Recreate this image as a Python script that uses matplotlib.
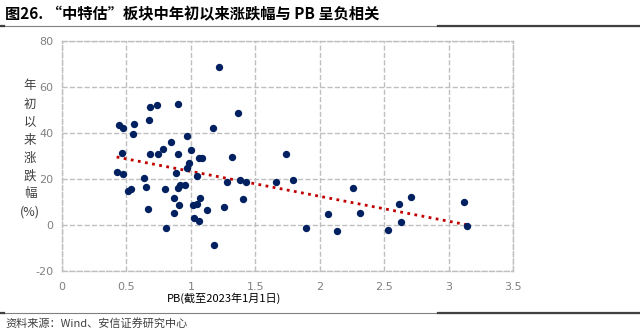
import numpy as np
import matplotlib
matplotlib.use('Agg')
import matplotlib.pyplot as plt
from matplotlib.lines import Line2D

plt.rcParams['font.family'] = ['Noto Sans CJK SC', 'DejaVu Sans']
plt.rcParams['axes.unicode_minus'] = False

# PB 与年初以来涨跌幅（%）
pb = [0.444, 0.475, 0.558, 0.548, 0.674, 0.680, 0.736, 0.902, 1.168, 1.215,
      0.465, 0.680, 0.747, 0.780, 0.845, 0.902, 0.969, 1.000, 0.984, 0.969,
      0.884, 1.065, 1.085, 1.044, 0.424, 0.470, 0.633, 1.364, 1.318, 1.739,
      0.509, 0.535, 0.651, 0.669, 0.796, 0.806, 0.873, 0.868, 0.909, 0.902,
      0.917, 0.953, 1.018, 1.049, 1.072, 1.023, 1.067, 1.127, 1.181, 1.256,
      1.281, 1.382, 1.406, 1.429, 1.659, 1.793, 1.894, 2.064, 2.132, 2.258,
      2.313, 2.530, 2.612, 2.630, 2.705, 3.122, 3.140]
chg = [43.5, 42.3, 43.9, 39.4, 45.4, 51.0, 51.9, 52.5, 42.0, 68.4,
       31.4, 30.7, 30.9, 33.0, 36.1, 30.7, 38.6, 32.5, 26.8, 24.7,
       22.7, 29.0, 29.0, 21.4, 22.9, 22.2, 20.4, 48.8, 29.6, 30.6,
       14.6, 15.5, 16.4, 7.1, 15.8, -1.3, 11.9, 5.4, 8.5, 16.2,
       17.2, 17.2, 8.8, 9.0, 11.6, 2.9, 1.6, 6.4, -8.7, 7.8,
       18.8, 19.3, 11.4, 18.6, 18.7, 19.4, -1.2, 4.9, -2.5, 15.9,
       5.4, -2.3, 9.1, 1.3, 12.3, 9.9, -0.6]

x_ticks = [0, 0.5, 1, 1.5, 2, 2.5, 3, 3.5]
y_ticks = [-20, 0, 20, 40, 60, 80]

fig = plt.figure(figsize=(6.4, 3.3), dpi=100)
ax = fig.add_axes([62/640, 1-271/330, (513-62)/640, (271-40.7)/330])

ax.scatter(pb, chg, s=28, color='#002060', zorder=3, linewidths=0)

# 线性趋势线
k, b = np.polyfit(pb, chg, 1)
xs = np.array([min(pb), max(pb)])
ax.plot(xs, k*xs + b, color='#C00000', linestyle=(0, (1, 1.6)), linewidth=2, zorder=2)

ax.set_xlim(0, 3.5)
ax.set_ylim(-20, 80)
ax.set_xticks(x_ticks)
ax.set_xticklabels(['0', '0.5', '1', '1.5', '2', '2.5', '3', '3.5'])
ax.set_yticks(y_ticks)
ax.grid(color='#BFBFBF', linestyle='--', linewidth=1)
for s in ax.spines.values():
    s.set_color('#BFBFBF')
    s.set_linestyle('--')
    s.set_linewidth(1)
ax.tick_params(length=0, colors='#808080', labelsize=8.5, pad=6)
ax.tick_params(axis='x', pad=8)
for lab in ax.get_xticklabels() + ax.get_yticklabels():
    lab.set_family('DejaVu Sans')
    lab.set_fontsize(8)

# 纵轴标题（竖排）
ylab = ['年', '初', '以', '来', '涨', '跌', '幅', '(%)']
for i, t in enumerate(ylab):
    fig.text(30/640, 1-(86+18*i)/330, t, ha='center', va='center',
             fontsize=9, color='#404040')

fig.text(224/640, 1-298/330, 'PB(截至2023年1月1日)', ha='center', va='center',
         fontsize=8, color='#000000')

fig.text(5/640, 1-14/330, '图26. “中特估”板块中年初以来涨跌幅与 PB 呈负相关',
         ha='left', va='center', fontsize=11, fontweight='bold', color='#000000')

# 标题与来源的分隔线
for yy in [26, 313]:
    fig.add_artist(Line2D([0, 1], [1-yy/330]*2, color='#808080', linewidth=0.8))
    fig.add_artist(Line2D([438/640, 1], [1-yy/330]*2, color='#404040', linewidth=1.6))
    fig.add_artist(Line2D([0, 4/640], [1-yy/330]*2, color='#404040', linewidth=1.6))

fig.text(5/640, 1-323/330, '资料来源：Wind、安信证券研究中心', ha='left', va='center',
         fontsize=8, color='#404040', style='italic')

fig.savefig('out.png', dpi=100)
